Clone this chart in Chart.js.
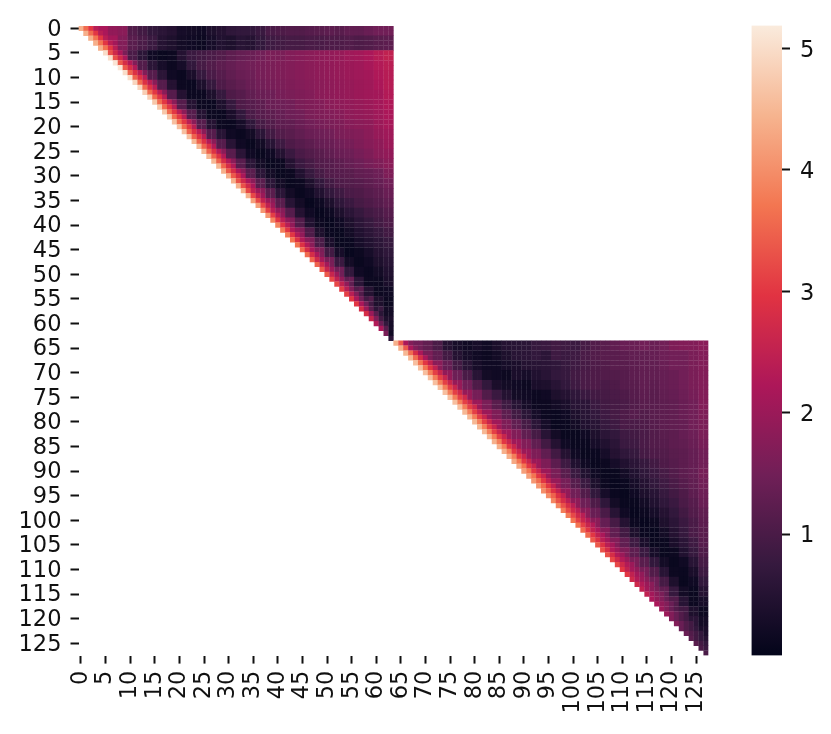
<!DOCTYPE html>
<html><head><meta charset="utf-8">
<script src="https://cdn.jsdelivr.net/npm/chart.js@4"></script>
<style>html,body{margin:0;padding:0;background:#fff;overflow:hidden}
canvas{position:absolute;top:0}#heat{left:0}#bar{left:740px}</style></head>
<body><canvas id="heat" width="740" height="734"></canvas><canvas id="bar" width="91" height="734"></canvas>
<script>
const axisTicks=[0,5,10,15,20,25,30,35,40,45,50,55,60,65,70,75,80,85,90,95,100,105,110,115,120,125];
const colorbarTicks=[1,2,3,4,5];
const valueMin=0, valueMax=5.19;
const rocketStops=['#03051a','#35193e','#701f57','#ad1759','#e13342','#f37651','#f6b48f','#faebdd'];

// First block: row-band start, values of the four cells next to the diagonal, then 2-cell column bands
const blockAStarts=[0,2,5,7,9,11,13,15,17,19,21,23,25,27,29,31,33,35,37,39,41,43,45,47,49,51,53,55,57,59,60,61,62,63];
const blockANear=[[4.4,3.6,3,2.4],[4.4,3.7,3,2.4],[5,3.3,2.7,2.2],[5.1,3.4,2.8,2.3],[5,3.5,2.9,2.4],[4.9,3.6,2.9,2.4],[4.8,3.6,3,2.4],[4.7,3.6,3,2.4],[4.7,3.6,3,2.4],[4.6,3.6,3,2.4],[4.6,3.5,2.9,2.4],[4.5,3.5,2.9,2.3],[4.5,3.5,2.9,2.3],[4.5,3.5,2.8,2.3],[4.4,3.4,2.8,2.2],[4.4,3.3,2.7,2.2],[4.4,3.2,2.5,2],[4.2,3.2,2.5,2],[4.1,3.1,2.4,1.9],[3.9,3,2.4,1.9],[3.8,3,2.3,1.9],[3.7,2.9,2.3,1.8],[3.6,2.8,2.2,1.7],[3.5,2.7,2.1,1.6],[3.4,2.6,2,1.5],[3.2,2.5,1.9,1.3],[3.1,2.4,1.7,1.1],[3,2.2,1.5,.9],[2.8,2,1.2,.6],[2.6,1.7,.9,.4],[2.3,1.4,.7,.3],[2.2,1.2,.3],[1.6,.2],[.6]];
const blockAFar=[
[3.5,2.6,2.2,1.9,1.8,1.1,.9,.7,.6,.5,.3,.25,.2,.4,.5,.65,.7,.7,.8,1,1.05,1.1,1.1,1.15,1.2,1.25,1.2,1.3,1.3,1.4,1.5,1.5],
[2.7,2.5,2.1,1.7,1.2,1,.8,.5,.4,.25,.2,.15,.3,.45,.4,.55,.5,.7,.85,.9,.95,.95,1,1,1.05,1.05,1.1,1.05,1.1,1.2,1.25],
[3,2.4,1.6,1,.6,.2,.1,.15,.5,.8,.9,1,1.1,1.25,1.35,1.4,1.5,1.6,1.6,1.7,1.75,1.8,1.85,1.9,1.95,2.05,2.1,2.2,2.35,2.5],
[3,2.3,1.7,1.1,.6,.3,.15,.3,.7,.95,1.1,1.25,1.35,1.45,1.5,1.55,1.6,1.65,1.7,1.75,1.8,1.85,1.9,1.95,2,2.05,2.15,2.3,2.4],
[3,2.4,1.7,1.15,.6,.2,.12,.35,.75,1,1.15,1.3,1.4,1.45,1.55,1.6,1.65,1.7,1.75,1.8,1.85,1.9,1.95,2,2.05,2.1,2.25,2.35],
[3,2.4,1.8,1.15,.5,.15,.12,.4,.75,1.05,1.2,1.3,1.4,1.5,1.55,1.6,1.65,1.7,1.75,1.8,1.85,1.9,1.95,2,2.05,2.2,2.35],
[3,2.4,1.8,1.15,.5,.15,.15,.4,.75,1.05,1.15,1.3,1.4,1.45,1.55,1.6,1.65,1.7,1.8,1.85,1.9,1.95,2,2.05,2.1,2.3],
[3,2.4,1.8,1.15,.5,.15,.12,.4,.75,1.05,1.15,1.25,1.4,1.45,1.5,1.6,1.65,1.7,1.8,1.85,1.9,1.95,2,2.1,2.25],
[3,2.4,1.8,1.15,.5,.15,.12,.35,.7,1,1.15,1.25,1.35,1.45,1.5,1.6,1.65,1.7,1.75,1.85,1.9,1.95,2.05,2.2],
[3,2.4,1.8,1.15,.5,.15,.12,.3,.65,.95,1.1,1.25,1.3,1.4,1.5,1.55,1.6,1.65,1.75,1.8,1.85,2,2.15],
[3,2.4,1.8,1.15,.55,.2,.12,.25,.6,.9,1.1,1.2,1.3,1.4,1.45,1.5,1.6,1.65,1.7,1.8,1.95,2.05],
[3,2.4,1.8,1.15,.55,.2,.1,.25,.55,.85,1.05,1.15,1.25,1.35,1.4,1.5,1.55,1.65,1.75,1.85,2],
[3,2.4,1.8,1.2,.6,.2,.1,.2,.5,.8,1,1.1,1.2,1.3,1.4,1.45,1.55,1.65,1.8,1.9],
[3,2.4,1.8,1.2,.6,.25,.1,.15,.5,.8,.95,1.1,1.15,1.25,1.35,1.45,1.55,1.65,1.8],
[3,2.4,1.8,1.2,.6,.25,.1,.15,.45,.75,.95,1.1,1.15,1.2,1.3,1.35,1.45,1.65],
[3,2.4,1.8,1.2,.6,.25,.1,.15,.4,.7,.9,1.05,1.1,1.15,1.25,1.35,1.5],
[3,2.4,1.8,1.2,.6,.25,.1,.2,.45,.7,.85,1,1.05,1.15,1.25,1.4],
[3,2.4,1.8,1.2,.55,.25,.08,.18,.4,.65,.8,.95,1.05,1.15,1.3],
[3,2.4,1.75,1.15,.5,.2,.08,.18,.4,.6,.75,.9,1,1.15],
[3,2.3,1.7,1.1,.45,.15,.08,.2,.4,.6,.75,.9,1.05],
[3,2.3,1.7,1.05,.4,.12,.1,.25,.45,.6,.75,.9],
[3,2.3,1.65,1,.35,.1,.12,.3,.45,.6,.75],
[3,2.2,1.6,.9,.3,.08,.15,.3,.5,.65],
[3,2.2,1.55,.8,.25,.1,.2,.4,.55],
[3,2.2,1.5,.7,.2,.12,.25,.45],
[3,2.1,1.4,.6,.15,.15,.35],
[3,2,1.25,.5,.15,.2],
[3,1.9,1.1,.4,.15],
[3,1.7,.8,.25],
[2.8,1.2,.35],
[2.3,.7,.3],
[2,.3],
[1.6,.2],
[.6]];

// Second block, same layout
const blockBStarts=[64,66,68,70,72,74,76,78,80,82,84,86,88,90,92,94,96,98,100,102,104,106,108,110,112,114,116,118,120,122,124,126];
const blockBNear=[[4.4,3.4,2.2,1.7],[4.5,3.6,2.8,2.2],[4.6,3.7,3,2.5],[4.6,3.8,3.1,2.6],[4.6,3.8,3.1,2.6],[4.6,3.8,3.1,2.7],[4.6,3.8,3.1,2.7],[4.5,3.8,3.1,2.6],[4.5,3.8,3.1,2.6],[4.5,3.8,3.1,2.6],[4.4,3.8,3,2.6],[4.4,3.8,3,2.6],[4.3,3.7,3,2.6],[4.2,3.7,3,2.6],[4.1,3.6,3,2.5],[4,3.5,2.9,2.5],[3.9,3.3,2.8,2.4],[3.8,3.2,2.7,2.4],[3.7,3.1,2.6,2.3],[3.6,3,2.5,2.2],[3.4,2.9,2.4,2.1],[3.3,2.8,2.3,2],[3.2,2.7,2.3,2],[3,2.5,2.1,1.9],[2.7,2.3,2,1.8],[2.5,2.1,1.8,1.6],[2.2,1.9,1.7,1.4],[2,1.7,1.4,1.1],[1.7,1.4,1.1,.9],[1.4,1.1,.9,.7],[1.2,.9,.7],[1,.8]];
const blockBFar=[
[3.5,2.2,1.5,1.3,1,.5,.3,.2,.3,.2,.35,.5,.55,.6,.75,.8,.9,.85,.8,.95,1.1,1.2,1.3,1.4,1.4,1.5,1.4,1.5,1.65,1.7,1.7,1.8],
[3,2.1,1.6,1.3,.9,.5,.3,.2,.15,.25,.4,.55,.6,.7,.6,.85,.8,.85,1,1.1,1.2,1.2,1.25,1.3,1.3,1.35,1.45,1.5,1.5,1.6,1.7],
[3,2.3,1.8,1.35,.9,.55,.3,.2,.2,.3,.35,.5,.55,.6,.65,.75,.85,.95,1.05,1.1,1.2,1.2,1.25,1.3,1.3,1.4,1.5,1.5,1.6,1.7],
[3,2.4,1.9,1.45,1,.55,.25,.2,.15,.35,.3,.45,.55,.7,.75,.9,1,1.05,1.1,1.1,1.15,1.25,1.3,1.3,1.35,1.4,1.5,1.6,1.7],
[3,2.4,1.95,1.5,1.05,.7,.35,.25,.2,.15,.35,.4,.55,.7,.85,1,1.05,1,1.05,1.15,1.2,1.3,1.25,1.35,1.4,1.5,1.6,1.7],
[3,2.4,1.95,1.55,1.1,.8,.5,.25,.2,.15,.2,.4,.5,.65,.8,.9,.95,1,1.05,1.15,1.25,1.2,1.3,1.35,1.45,1.55,1.7],
[3,2.4,2,1.6,1.2,.85,.55,.3,.15,.15,.25,.35,.55,.6,.8,.9,.95,1,1.1,1.2,1.2,1.25,1.3,1.4,1.5,1.7],
[3,2.4,2,1.65,1.25,.9,.6,.3,.15,.12,.2,.4,.55,.7,.85,.95,1.05,1.15,1.1,1.2,1.25,1.3,1.4,1.5,1.65],
[3,2.4,2.05,1.65,1.3,.95,.6,.3,.1,.12,.25,.45,.55,.75,.85,1,1,1.05,1.15,1.25,1.3,1.35,1.5,1.6],
[3,2.4,2.05,1.7,1.3,.95,.55,.25,.1,.1,.2,.4,.6,.7,.85,.9,1,1.1,1.2,1.25,1.35,1.45,1.6],
[3,2.4,2.05,1.7,1.3,.9,.5,.2,.1,.12,.3,.45,.6,.8,.85,1,1.1,1.15,1.25,1.3,1.4,1.55],
[3,2.4,2,1.65,1.3,.9,.5,.2,.1,.12,.3,.5,.65,.75,.95,1.05,1.1,1.2,1.25,1.35,1.5],
[3,2.4,2,1.65,1.25,.85,.45,.2,.1,.15,.3,.45,.6,.75,.9,1.05,1.15,1.25,1.35,1.5],
[3,2.4,2,1.6,1.2,.8,.45,.2,.1,.1,.25,.45,.65,.8,.95,1.1,1.25,1.35,1.55],
[3,2.4,1.95,1.55,1.15,.8,.4,.15,.08,.12,.3,.5,.7,.85,1,1.15,1.3,1.5],
[3,2.3,1.9,1.5,1.1,.7,.3,.12,.08,.2,.4,.55,.75,.9,1.05,1.25,1.45],
[3,2.3,1.85,1.45,1.05,.65,.25,.1,.1,.25,.45,.65,.8,1,1.15,1.4],
[3,2.2,1.8,1.4,1,.55,.2,.08,.15,.3,.5,.7,.9,1.1,1.3],
[3,2.2,1.8,1.35,.95,.5,.15,.08,.15,.4,.6,.8,1,1.25],
[3,2.1,1.75,1.3,.9,.4,.12,.08,.25,.5,.75,1,1.2],
[2.9,2.1,1.7,1.3,.85,.35,.1,.12,.35,.6,.85,1.15],
[2.9,2,1.65,1.25,.8,.3,.1,.15,.45,.75,1.05],
[2.8,2,1.6,1.2,.7,.25,.1,.2,.55,.95],
[2.7,1.9,1.55,1.1,.55,.15,.12,.35,.85],
[2.5,1.85,1.45,.95,.4,.1,.2,.7],
[2.3,1.75,1.3,.75,.25,.12,.5],
[2.1,1.6,1.1,.55,.15,.3],
[1.9,1.4,.9,.4,.15],
[1.6,1.15,.6,.25],
[1.3,.85,.35],
[1.1,.5],
[.9]];

function hexRgb(h){return [1,3,5].map(i=>parseInt(h.substr(i,2),16));}
const stopsRgb=rocketStops.map(hexRgb);
function rocket(v){
  const f=Math.max(0,Math.min(1,(v-valueMin)/(valueMax-valueMin)))*(stopsRgb.length-1);
  const i=Math.min(stopsRgb.length-2,Math.floor(f)),t=f-i,a=stopsRgb[i],b=stopsRgb[i+1];
  return `rgb(${a.map((c,k)=>Math.round(c+(b[k]-c)*t)).join(',')})`;
}
function cellsOf(origin,size,starts,near,far){
  const out=[];
  starts.forEach((start,b)=>{
    const end=b+1<starts.length?starts[b+1]:origin+size;
    for(let row=start;row<end;row++){
      const firstBand=Math.floor((start-origin)/2);
      for(let col=row;col<origin+size;col++){
        const off=col-row;
        const band=Math.floor((col-origin)/2)-firstBand;
        const v=off<near[b].length?near[b][off]:far[b][band];
        out.push({x:col+.5,y:row+.5,v:v});
      }
    }
  });
  return out;
}
const cells=cellsOf(0,64,blockAStarts,blockANear,blockAFar).concat(cellsOf(64,64,blockBStarts,blockBNear,blockBFar));
const fontCfg={family:'"DejaVu Sans"',size:22.5};
const nudgedFont={family:'"DejaVu Sans"',size:22.5,lineHeight:'3px'};
const tickGrid={drawOnChartArea:false,drawTicks:true,tickLength:8,tickWidth:2,tickColor:'#111'};
const cellRadius=c=>c.chart.chartArea?(c.chart.chartArea.width/128+.3)*Math.SQRT1_2:3.7;

new Chart(document.getElementById('heat'),{
  type:'scatter',
  data:{datasets:[{data:cells,
    pointStyle:'rect',borderWidth:0,
    pointRadius:cellRadius,pointHoverRadius:cellRadius,
    backgroundColor:c=>c.raw?rocket(c.raw.v):'#000'}]},
  options:{responsive:false,animation:false,events:[],
    layout:{padding:{left:0,top:25.9,right:31.5,bottom:0}},
    plugins:{legend:{display:false},tooltip:{enabled:false}},
    scales:{
      x:{type:'linear',min:0,max:128,
        afterBuildTicks:s=>{s.ticks=axisTicks.map(v=>({value:v+.5}));},
        afterFit:s=>{s.height=78.4;},
        grid:tickGrid,border:{display:false},
        ticks:{autoSkip:false,minRotation:90,maxRotation:90,padding:7,color:'#111',font:fontCfg,callback:v=>String(v-.5)}},
      y:{type:'linear',reverse:true,min:0,max:128,
        afterBuildTicks:s=>{s.ticks=axisTicks.map(v=>({value:v+.5}));},
        afterFit:s=>{s.width=78.5;},
        grid:tickGrid,border:{display:false},
        ticks:{autoSkip:false,padding:9,color:'#111',font:nudgedFont,callback:v=>['',String(v-.5)]}}
    }}
});

new Chart(document.getElementById('bar'),{
  type:'bar',
  data:{labels:[''],datasets:[{data:[[valueMin,valueMax]],barPercentage:1,categoryPercentage:1,borderWidth:0,
    backgroundColor:c=>{
      const area=c.chart.chartArea;
      if(!area||!(area.bottom>area.top))return rocketStops[2];
      const g=c.chart.ctx.createLinearGradient(0,area.bottom,0,area.top);
      rocketStops.forEach((h,i)=>g.addColorStop(i/(rocketStops.length-1),h));
      return g;
    }}]},
  options:{responsive:false,animation:false,events:[],
    layout:{padding:{left:11.5,top:25.5,right:0,bottom:78.5}},
    plugins:{legend:{display:false},tooltip:{enabled:false}},
    scales:{
      x:{display:false},
      y:{position:'right',min:valueMin,max:valueMax,
        afterBuildTicks:s=>{s.ticks=colorbarTicks.map(v=>({value:v}));},
        afterFit:s=>{s.width=49;},
        grid:tickGrid,border:{display:false},
        ticks:{padding:10,color:'#111',font:{family:'"DejaVu Sans"',size:22.5,lineHeight:'5px'},callback:v=>['',String(v)]}}
    }}
});
</script></body></html>
